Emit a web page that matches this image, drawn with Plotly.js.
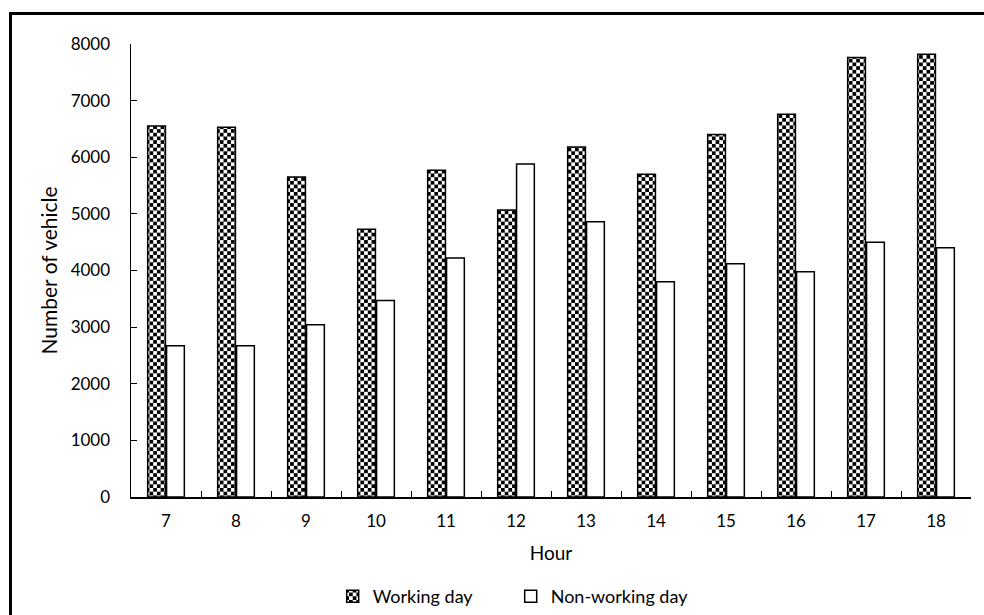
<!DOCTYPE html>
<html>
<head>
<meta charset="utf-8">
<script src="https://cdn.plot.ly/plotly-3.0.1.min.js"></script>
<style>
  html, body { margin: 0; padding: 0; background: #fff; overflow: hidden; }
  #wrap { position: relative; width: 984px; height: 615px; overflow: hidden; }
  #frame { position: absolute; left: 9px; top: 12px; width: 1100px; height: 800px;
           border: 3px solid #000; box-sizing: border-box; pointer-events: none; z-index: 5; }
  #chart { width: 984px; height: 615px; }
</style>
</head>
<body>
<div id="wrap">
  <div id="chart"></div>
  <div id="frame"></div>
</div>
<script>
// Hourly vehicle counts, 7:00 to 18:00
const hours = ['7', '8', '9', '10', '11', '12', '13', '14', '15', '16', '17', '18'];
const workingDay = [6550, 6530, 5650, 4730, 5770, 5070, 6180, 5700, 6400, 6760, 7760, 7820];
const nonWorkingDay = [2670, 2670, 3040, 3470, 4220, 5880, 4860, 3800, 4120, 3980, 4500, 4400];
const yTicks = [0, 1000, 2000, 3000, 4000, 5000, 6000, 7000, 8000];

const font = 'Lato, "Open Sans", sans-serif';

const traces = [
  {
    type: 'bar', name: 'Working day', x: hours, y: workingDay,
    marker: { color: '#ffffff', line: { color: '#000', width: 1.5 } }
  },
  {
    type: 'bar', name: 'Non-working day', x: hours, y: nonWorkingDay,
    marker: { color: '#ffffff', line: { color: '#000', width: 1.5 } }
  }
];

const layout = {
  width: 984, height: 615,
  margin: { l: 131, r: 13, t: 44, b: 118 },
  paper_bgcolor: '#fff', plot_bgcolor: '#fff',
  font: { family: font, size: 17, color: '#000' },
  barmode: 'group', bargap: 0.46, bargroupgap: 0.06,
  showlegend: true,
  legend: {
    orientation: 'h', xref: 'container', x: 0.519, xanchor: 'center',
    yref: 'container', y: 0.03, yanchor: 'middle',
    font: { family: font, size: 18, color: '#000' },
    entrywidth: 133, entrywidthmode: 'pixels',
    itemwidth: 30, traceorder: 'normal'
  },
  xaxis: {
    type: 'category',
    showline: true, linecolor: '#000', linewidth: 1.5,
    ticks: 'inside', ticklen: 6, tickcolor: '#000', tickwidth: 1,
    tickson: 'boundaries', ticklabelstandoff: 8,
    showgrid: false, zeroline: false,
    title: { text: 'Hour', font: { family: font, size: 19 }, standoff: 17 }
  },
  yaxis: {
    range: [0, 8000], tickvals: yTicks, ticktext: yTicks.map(String),
    showline: true, linecolor: '#000', linewidth: 1.5,
    ticks: 'inside', ticklen: 6, tickcolor: '#000', tickwidth: 1,
    ticklabelstandoff: 16,
    showgrid: false, zeroline: false,
    title: { text: 'Number of vehicle', font: { family: font, size: 21 }, standoff: 7 }
  }
};

Plotly.newPlot('chart', traces, layout, { staticPlot: true }).then(function (gd) {
  // Checkerboard fill for the working-day bars
  const svgNS = 'http://www.w3.org/2000/svg';
  const svg = gd.querySelector('svg.main-svg');
  let defs = svg.querySelector('defs');
  if (!defs) { defs = document.createElementNS(svgNS, 'defs'); svg.insertBefore(defs, svg.firstChild); }
  const pat = document.createElementNS(svgNS, 'pattern');
  pat.setAttribute('id', 'checker');
  pat.setAttribute('patternUnits', 'userSpaceOnUse');
  pat.setAttribute('width', '7.4');
  pat.setAttribute('height', '7.4');
  const cells = [[0, 0, '#fff', 7.4, 7.4], [0, 0, '#000', 3.7, 3.7], [3.7, 3.7, '#000', 3.7, 3.7]];
  cells.forEach(function (c) {
    const r = document.createElementNS(svgNS, 'rect');
    r.setAttribute('x', c[0]); r.setAttribute('y', c[1]);
    r.setAttribute('width', c[3]); r.setAttribute('height', c[4]);
    r.setAttribute('fill', c[2]);
    pat.appendChild(r);
  });
  defs.appendChild(pat);

  const barTraces = gd.querySelectorAll('.barlayer .trace.bars');
  if (barTraces.length) {
    barTraces[0].querySelectorAll('path').forEach(function (p) { p.style.fill = 'url(#checker)'; });
  }
  const legendItems = gd.querySelectorAll('.legend .traces');
  if (legendItems.length) {
    legendItems[0].querySelectorAll('.legendpoints path').forEach(function (p) { p.style.fill = 'url(#checker)'; });
  }
});
</script>
</body>
</html>
